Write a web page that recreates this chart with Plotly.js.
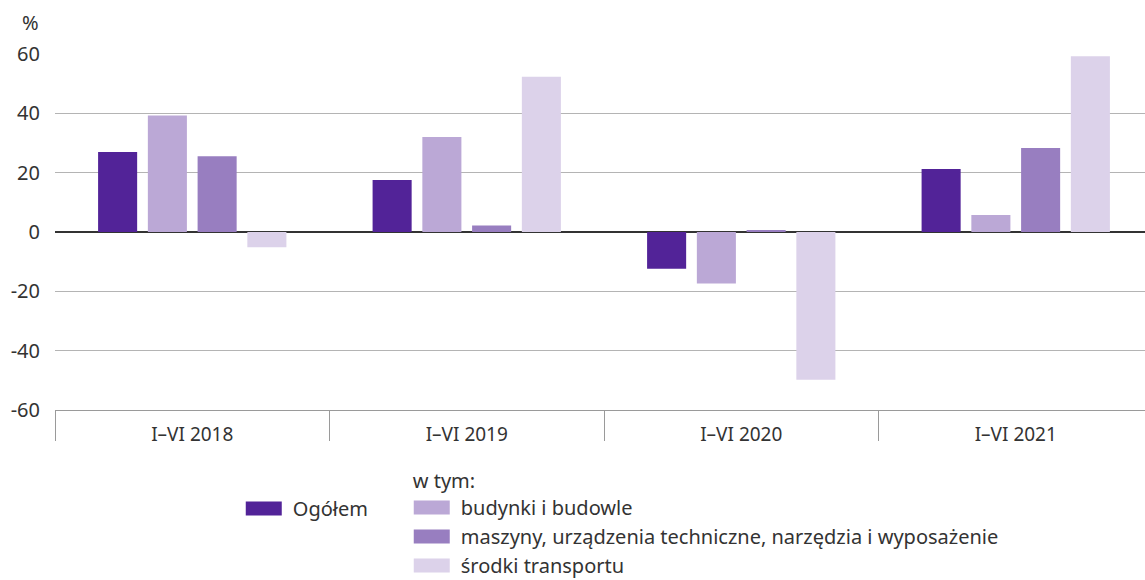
<!DOCTYPE html>
<html>
<head>
<meta charset="utf-8">
<script src="https://cdn.plot.ly/plotly-3.0.1.min.js"></script>
<style>
html,body{margin:0;padding:0;overflow:hidden;background:#fff;width:1145px;height:580px;}
#chart{width:1153px;height:580px;}
</style>
</head>
<body>
<div id="chart"></div>
<script>
const categories = ['I–VI 2018', 'I–VI 2019', 'I–VI 2020', 'I–VI 2021'];
const ogolem = [27.0, 17.5, -12.4, 21.2];
const budynki = [39.3, 32.0, -17.4, 5.7];
const maszyny = [25.5, 2.2, 0.7, 28.3];
const transport = [-5.1, 52.3, -49.8, 59.2];
const seriesNames = ['Ogółem', 'budynki i budowle', 'maszyny, urządzenia techniczne, narzędzia i wyposażenie', 'środki transportu'];
const seriesColors = ['#522398', '#bba8d6', '#987ec0', '#dcd2ea'];
const yTicks = [-60, -40, -20, 0, 20, 40, 60];

const FONT = '"Noto Sans", "Open Sans", sans-serif';
const TXT = '#333333';
const values = [ogolem, budynki, maszyny, transport];

const data = values.map((v, i) => ({
  type: 'bar',
  x: categories,
  y: v,
  name: seriesNames[i],
  marker: {color: seriesColors[i], line: {width: 0}},
  legend: i === 0 ? 'legend' : 'legend2',
  legendgroup: 'g' + i,
  hoverinfo: 'x+y+name'
}));

const layout = {
  width: 1153,
  height: 580,
  margin: {l: 55, r: 0, t: 54, b: 170, autoexpand: false},
  paper_bgcolor: '#ffffff',
  plot_bgcolor: '#ffffff',
  font: {family: FONT, size: 20, color: TXT},
  barmode: 'group',
  bargap: 0.275,
  bargroupgap: 0.215,
  xaxis: {
    type: 'category',
    showgrid: false,
    showline: true,
    linecolor: '#9a9a9a',
    linewidth: 1,
    ticks: 'outside',
    tickson: 'boundaries',
    ticklen: 30,
    tickcolor: '#9a9a9a',
    tickwidth: 1,
    ticklabelstandoff: 7,
    tickfont: {family: FONT, size: 19, color: TXT},
    fixedrange: true
  },
  yaxis: {
    range: [-60, 60],
    tickvals: yTicks,
    ticktext: yTicks.map(String),
    showgrid: true,
    gridcolor: '#b4b4b4',
    gridwidth: 1,
    zeroline: true,
    zerolinecolor: '#333333',
    zerolinewidth: 1.5,
    showline: false,
    ticks: '',
    ticklabelstandoff: 14,
    tickfont: {family: FONT, size: 20, color: TXT},
    fixedrange: true
  },
  showlegend: true,
  legend: {
    x: 0.171, xanchor: 'left',
    y: -0.222, yanchor: 'top',
    orientation: 'v',
    bgcolor: 'rgba(0,0,0,0)',
    font: {family: FONT, size: 20, color: TXT},
    itemwidth: 40,
    itemclick: false, itemdoubleclick: false
  },
  legend2: {
    x: 0.324, xanchor: 'left',
    y: -0.146, yanchor: 'top',
    orientation: 'v',
    bgcolor: 'rgba(0,0,0,0)',
    font: {family: FONT, size: 20, color: TXT},
    title: {text: 'w tym:', side: 'top', font: {family: FONT, size: 20, color: TXT}},
    tracegroupgap: 9,
    traceorder: 'normal',
    itemwidth: 40,
    itemclick: false, itemdoubleclick: false
  },
  annotations: [{
    text: '%',
    xref: 'paper', yref: 'paper',
    x: -35 / 1098, y: 1 + 32 / 356,
    xanchor: 'left', yanchor: 'middle',
    showarrow: false,
    font: {family: FONT, size: 20, color: TXT}
  }]
};

const gd = document.getElementById('chart');

function fixSwatches() {
  document.querySelectorAll('#chart g.traces').forEach(tr => {
    const path = tr.querySelector('.legendpoints path');
    const text = tr.querySelector('text.legendtext, text.legend2text');
    if (!path || !text) return;
    const pc = path.getCTM();
    const tc = text.getCTM();
    if (!pc || !tc) return;
    const tx = parseFloat(text.getAttribute('x')) || 0;
    const start = tx + (tc.e - pc.e);
    const b = start - 11;
    const a = b - 36;
    path.setAttribute('d', `M${a},-7H${b}V7H${a}Z`);
    path.style.strokeWidth = '0px';
  });
}

Plotly.newPlot(gd, data, layout, {displayModeBar: false, responsive: false}).then(() => {
  fixSwatches();
  gd.on('plotly_afterplot', fixSwatches);
  requestAnimationFrame(fixSwatches);
  setTimeout(fixSwatches, 50);
  setTimeout(fixSwatches, 300);
});
</script>
</body>
</html>
